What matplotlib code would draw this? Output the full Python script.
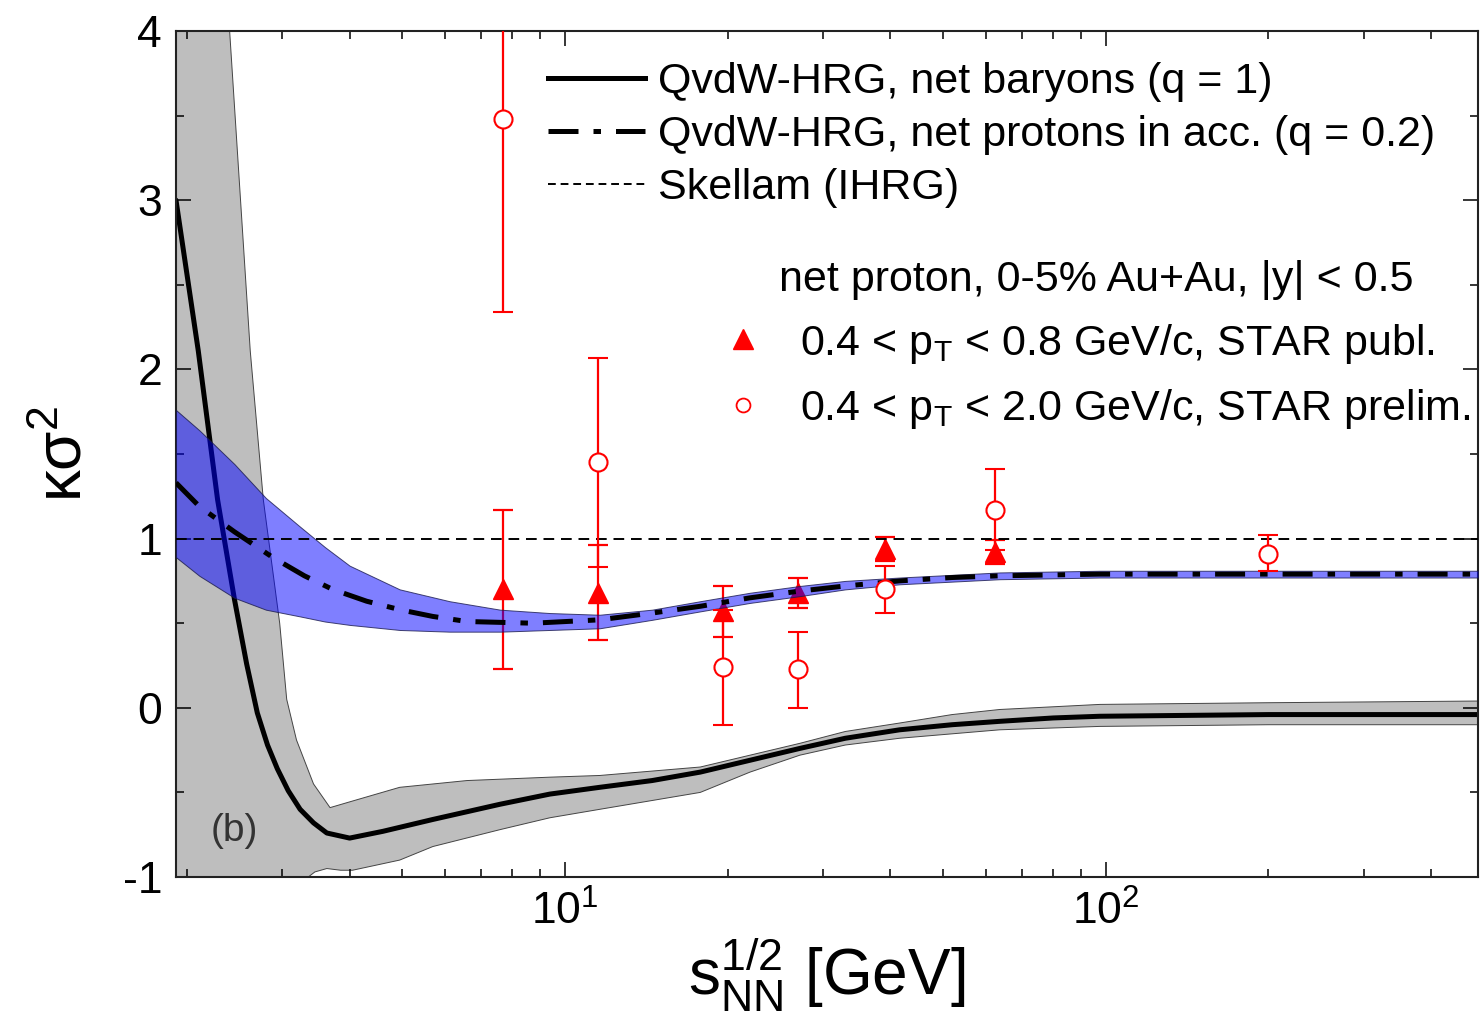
import matplotlib
matplotlib.use("Agg")
import matplotlib.pyplot as plt
from matplotlib.lines import Line2D
from matplotlib.ticker import MultipleLocator, LogLocator
import numpy as np

plt.rcParams["font.family"] = ["Liberation Sans", "DejaVu Sans"]
plt.rcParams["mathtext.fontset"] = "custom"
plt.rcParams["mathtext.rm"] = "Liberation Sans"
plt.rcParams["mathtext.it"] = "Liberation Sans:italic"
plt.rcParams["mathtext.bf"] = "Liberation Sans:bold"
plt.rcParams["axes.unicode_minus"] = False

# QvdW-HRG net baryons (q = 1): central line and band
nb_x = [1.91, 2.10, 2.28, 2.45, 2.58, 2.70, 2.82, 2.94, 3.08, 3.24, 3.43, 3.63, 4.0,
        4.61, 5.7, 7.59, 9.38, 11.6, 14.5, 17.8, 22.0, 27.2, 33.0, 41.6, 52.0, 63.7,
        80.0, 97.5, 200, 488]
nb_y = [3.0, 2.11, 1.23, 0.64, 0.26, -0.03, -0.22, -0.36, -0.49, -0.60, -0.68, -0.74,
        -0.77, -0.73, -0.66, -0.57, -0.51, -0.47, -0.43, -0.38, -0.31, -0.24, -0.18,
        -0.13, -0.10, -0.08, -0.06, -0.05, -0.04, -0.04]

nb_up_x = [1.91, 2.40, 2.62, 2.77, 2.97, 3.06, 3.19, 3.43, 3.68, 4.06, 4.95, 6.59,
           9.38, 11.6, 17.8, 22.0, 27.2, 33.0, 41.6, 52.0, 63.7, 97.5, 200, 488]
nb_up_y = [8.0, 4.0, 2.11, 1.23, 0.50, 0.05, -0.19, -0.45, -0.59, -0.55, -0.47, -0.43,
           -0.41, -0.40, -0.35, -0.28, -0.21, -0.14, -0.09, -0.04, -0.01, 0.02, 0.03, 0.04]
nb_lo_x = [1.91, 3.20, 3.45, 3.63, 3.85, 4.05, 4.95, 5.7, 7.59, 9.38, 11.6, 17.8,
           22.0, 27.2, 33.0, 41.6, 63.7, 97.5, 200, 488]
nb_lo_y = [-1.5, -1.05, -0.97, -0.95, -0.96, -0.96, -0.90, -0.82, -0.72, -0.65, -0.60,
           -0.50, -0.38, -0.28, -0.22, -0.18, -0.13, -0.11, -0.10, -0.10]

# QvdW-HRG net protons in acceptance (q = 0.2)
np_x = [1.91, 2.11, 2.45, 2.88, 3.30, 3.72, 4.30, 4.95, 5.70, 6.59, 8.73, 11.6, 14.5,
        17.8, 22.0, 27.2, 33.0, 41.6, 52.0, 63.7, 97.5, 200, 488]
np_y = [1.33, 1.19, 1.04, 0.89, 0.78, 0.70, 0.63, 0.58, 0.54, 0.51, 0.50, 0.52, 0.56,
        0.60, 0.65, 0.69, 0.72, 0.75, 0.77, 0.78, 0.79, 0.79, 0.79]

npb_x = [1.91, 2.11, 2.45, 2.80, 3.24, 3.60, 4.0, 4.95, 6.12, 7.59, 9.38, 11.6, 14.5,
         17.8, 22.0, 27.2, 33.0, 41.6, 63.7, 97.5, 200, 488]
npb_hi = [1.76, 1.64, 1.44, 1.24, 1.07, 0.95, 0.84, 0.70, 0.63, 0.58, 0.56, 0.55, 0.58,
          0.63, 0.68, 0.72, 0.75, 0.77, 0.80, 0.81, 0.81, 0.81]
npb_lo = [0.89, 0.78, 0.65, 0.58, 0.54, 0.51, 0.49, 0.46, 0.45, 0.45, 0.46, 0.47, 0.52,
          0.57, 0.62, 0.66, 0.70, 0.73, 0.76, 0.77, 0.77, 0.77]

# STAR data
publ_e = [7.7, 11.5, 19.6, 27, 39, 62.4]
publ_v = [0.70, 0.68, 0.57, 0.68, 0.94, 0.92]
publ_err = [0.47, 0.28, 0.15, 0.09, 0.07, 0.07]

prel_e = [7.7, 11.5, 19.6, 27, 39, 62.4, 200]
prel_v = [3.48, 1.45, 0.24, 0.23, 0.70, 1.17, 0.91]
prel_err_lo = [1.14, 0.62, 0.34, 0.23, 0.14, 0.24, 0.10]
prel_err_hi = [1.14, 0.62, 0.34, 0.22, 0.14, 0.24, 0.11]

W, H = 1480, 1030
fig = plt.figure(figsize=(W / 100, H / 100), dpi=100)
ax = fig.add_axes([176 / W, (H - 877) / H, (1478 - 176) / W, (877 - 31) / H])

red = "#ff0000"

# gray band (net baryons)
poly_x = list(nb_up_x) + list(nb_lo_x[::-1])
poly_y = list(nb_up_y) + list(nb_lo_y[::-1])
ax.fill(poly_x, poly_y, facecolor="#bebebe", edgecolor="#444444", lw=0.7, zorder=1)
ax.plot(nb_x, nb_y, color="black", lw=3.6, zorder=2, solid_capstyle="round")

# STAR published (triangles) below the blue band
ax.errorbar(publ_e, publ_v, yerr=publ_err, fmt="^", color=red, ms=15,
            lw=1.6, capsize=7, capthick=1.6, zorder=2.5)

# blue band (net protons)
ax.fill_between(npb_x, npb_lo, npb_hi, facecolor=(0, 0, 1, 0.5),
                edgecolor=(0.1, 0.1, 0.3, 0.8), lw=0.7, zorder=3)
ax.plot(np_x, np_y, color="black", lw=3.6, ls=(0, (6, 3, 1.5, 3)), zorder=4)

# Skellam
ax.axhline(1.0, color="black", lw=1.4, ls=(0, (5.5, 3.5)), zorder=4)

# STAR preliminary (open circles)
ax.errorbar(prel_e, prel_v, yerr=[prel_err_lo, prel_err_hi], fmt="o", color=red,
            mfc="white", mec=red, mew=1.5, ms=13, lw=1.6, capsize=7,
            capthick=1.6, zorder=5)

ax.set_xscale("log")
ax.set_xlim(1.91, 488)
ax.set_ylim(-1, 4)
ax.yaxis.set_major_locator(MultipleLocator(1))
ax.yaxis.set_minor_locator(MultipleLocator(0.5))
ax.xaxis.set_minor_locator(LogLocator(base=10, subs=np.arange(2, 10)))

ax.tick_params(which="both", direction="in", top=True, right=True, width=1.1)
ax.tick_params(which="major", length=11, labelsize=32, pad=10)
ax.tick_params(which="minor", length=6)
for s in ax.spines.values():
    s.set_linewidth(1.5)
    s.set_color("#222222")

ax.set_xlabel(r"$\mathrm{s}_{\mathrm{NN}}^{1/2}$ [GeV]", fontsize=46, labelpad=2)
ax.set_ylabel("κσ$^{2}$", fontsize=46, labelpad=20)

ax.text(0.045, 0.054, "(b)", transform=ax.transAxes, fontsize=28,
        color="#333333", ha="center", va="center")

# legends
fs = 31
h1 = [Line2D([], [], color="black", lw=3.6),
      Line2D([], [], color="black", lw=3.6, ls=(0, (6, 3, 1.5, 3))),
      Line2D([], [], color="black", lw=1.4, ls=(0, (4, 2.5)))]
l1 = ax.legend(h1, ["QvdW-HRG, net baryons (q = 1)",
                    "QvdW-HRG, net protons in acc. (q = 0.2)",
                    "Skellam (IHRG)"],
               loc="upper left", bbox_to_anchor=((548 - 176) / 1302, (877 - 62) / 846),
               frameon=False, fontsize=fs, handlelength=2.25, handletextpad=0.3,
               labelspacing=0.3, borderpad=0, borderaxespad=0)
ax.add_artist(l1)

h2 = [Line2D([], [], ls="none", marker="^", color=red, ms=14),
      Line2D([], [], ls="none", marker="o", mfc="white", mec=red, mew=1.3, ms=10)]
l2 = ax.legend(h2, [r"0.4 < p$_\mathrm{T}$ < 0.8 GeV/c, STAR publ.",
                    r"0.4 < p$_\mathrm{T}$ < 2.0 GeV/c, STAR prelim."],
               title="net proton, 0-5% Au+Au, |y| < 0.5", title_fontsize=fs,
               loc="upper left", bbox_to_anchor=((721 - 176) / 1302, (877 - 260) / 846),
               frameon=False, fontsize=fs, handlelength=1.0, handletextpad=0.84,
               labelspacing=0.5, borderpad=0, borderaxespad=0)

fig.savefig("out.png", dpi=100)
